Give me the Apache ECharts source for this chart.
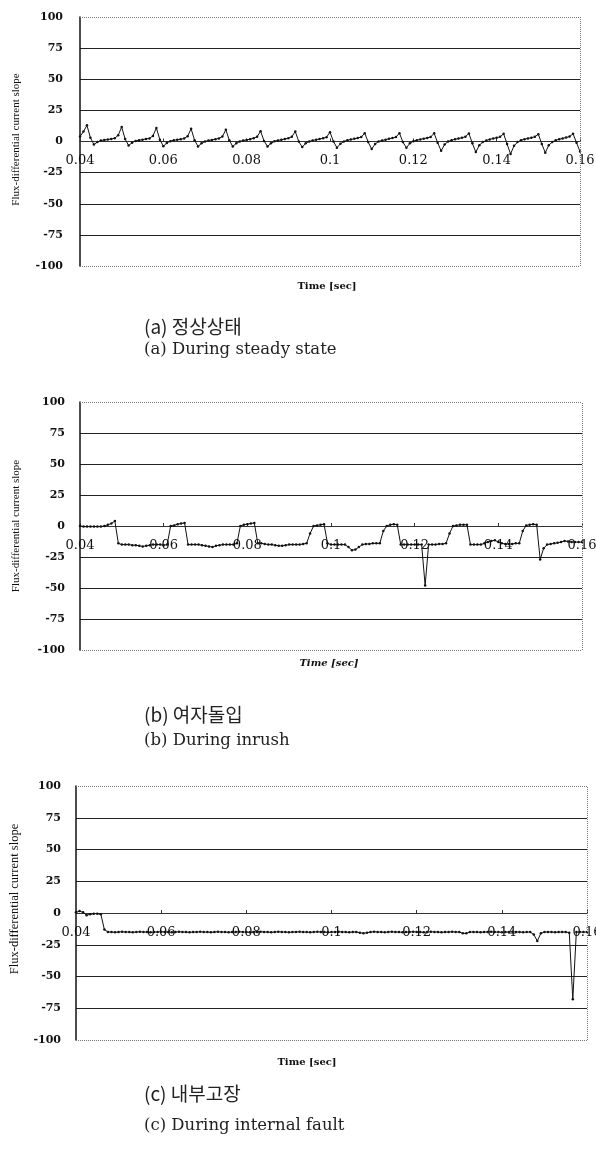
<!DOCTYPE html>
<html><head><meta charset="utf-8">
<script src="https://cdn.jsdelivr.net/npm/echarts@6/dist/echarts.min.js"></script>
<style>html,body{margin:0;padding:0;background:#fff}#c{width:596px;height:1149px}</style>
</head><body><div id="c"></div>
<script>
// ---- data ----
const xTicks = [0.04, 0.06, 0.08, 0.10, 0.12, 0.14, 0.16];
const xTickLabels = ['0.04', '0.06', '0.08', '0.1', '0.12', '0.14', '0.16'];
const yTicks = [-100, -75, -50, -25, 0, 25, 50, 75, 100];
const yTickLabels = ['-100', '-75', '-50', '-25', '0', '25', '50', '75', '100'];
const yName = 'Flux-differential current slope';
const xName = 'Time [sec]';
const captionsKo = ['(a) 정상상태', '(b) 여자돌입', '(c) 내부고장'];
const captionsEn = ['(a) During steady state', '(b) During inrush', '(c) During internal fault'];
const tStart = 0.04, tEnd = 0.16;
const yMin = -100, yMax = 100;

// (a) steady state, 145 samples from 0.04 to 0.16 s
const steadyState = [
  4, 8, 13,
  3, -2.4, -0.5, 0.8, 1.2, 1.6, 2, 2.6, 5, 11.6,
  2, -3.2, -1, 0.5, 1, 1.5, 2, 2.5, 4.5, 10.8,
  1.5, -3.8, -1.2, 0.3, 1, 1.4, 1.8, 2.4, 4.3, 10.2,
  1, -4, -1.5, 0, 0.8, 1.3, 1.8, 2.5, 4, 9.4,
  1, -4, -1.5, 0, 0.8, 1.3, 1.9, 2.6, 3.8, 8.3,
  0.5, -4, -1.5, 0.2, 0.9, 1.4, 2, 2.6, 3.8, 8,
  0, -4.5, -1.5, 0, 0.8, 1.5, 2, 2.6, 3.5, 7.5,
  0, -5, -1.8, 0, 1, 1.6, 2.2, 2.8, 3.6, 6.7,
  -0.5, -6, -2, 0, 0.8, 1.5, 2.2, 2.8, 3.6, 6.7,
  -0.5, -5, -1.5, 0.3, 1, 1.7, 2.3, 2.9, 3.7, 6.6,
  -1, -7.5, -2.5, 0, 1, 1.8, 2.4, 3, 3.8, 6.5,
  -1.5, -8.5, -3, -0.5, 0.8, 1.7, 2.4, 3, 3.8, 6.2,
  -2, -10, -3.5, -0.5, 1, 1.8, 2.5, 3, 3.8, 5.8,
  -2, -9, -3, -0.5, 1, 1.8, 2.5, 3.2, 4, 6.2,
  -1, -8
];

// (b) inrush
const inrush = [
  0, -0.5, -0.5, -0.5, -0.5, -0.5, -0.5, 0,
  1, 2, 4,
  -14,
  -15, -15, -15, -15.5, -15.5, -16, -16.5, -16, -15.5, -15, -15, -15, -15.5, -15,
  0, 0.5, 1.5, 2, 2.5,
  -15,
  -15, -15, -15, -15.5, -16, -16.5, -17, -16, -15.5, -15, -15, -15, -15, -14,
  0, 1, 1.5, 2, 2.5,
  -14,
  -14, -14.5, -15, -15, -15.5, -16, -16, -15.5, -15, -15, -15, -15, -14.5, -14,
  -6,
  0, 0.5, 1, 1.5,
  -14,
  -15, -15, -15, -15, -15, -17, -19.5, -19, -17, -15, -14.5, -14.5, -14, -14, -14,
  -4,
  0, 1, 1.5, 1,
  -15, -15, -15, -15, -15, -15, -15,
  -48,
  -15, -15, -15, -14.5, -14.5, -14,
  -6,
  0, 0.5, 1, 1, 1,
  -15, -15, -15, -15, -14, -13, -12, -11.5, -13, -14, -14.5, -14.5, -14.5, -14, -14,
  -4,
  0.5, 1, 1.5, 1,
  -27, -18, -15,
  -14.5, -14, -13.5, -13, -12, -12.5, -13, -13, -13, -13
];

// (c) internal fault
const internalFault = [
  0.5, 1.5, 0.5, -1.8, -1, -0.5, -0.5, -1, -13,
  -15, -15, -15.2, -15, -14.8, -15, -15, -15.2, -15, -14.8,
  -15, -15, -15.2, -15, -15, -14.8, -15, -15, -15.2, -15,
  -14.8, -15, -15, -15.2, -15, -15, -14.8, -15, -15, -15.2,
  -15, -14.8, -15, -15, -15.2, -15, -15, -14.8, -15, -15,
  -15.2, -15, -15, -14.8, -15, -15, -15.2, -15, -14.8, -15,
  -15, -15.2, -15, -15, -14.8, -15, -15, -15.2, -15, -14.8,
  -15, -15, -15.2, -15, -15, -14.8, -15, -15, -15.2, -15,
  -15, -15.5, -16, -15.5, -15, -14.8, -15, -15, -15.2, -15,
  -14.8, -15, -15, -15.2, -15, -15, -14.8, -15, -15, -15.2,
  -15, -14.8, -15, -15, -15.2, -15, -15, -14.8, -15, -15,
  -16, -16, -15,
  -15, -15, -15.2, -15, -15, -14.8, -15, -15, -15.2, -15, -15, -14.8, -15, -15, -15.2, -15, -15,
  -17, -22, -16,
  -15, -15, -15, -15.2, -15, -15, -15,
  -15.5, -68, -15,
  -15, -15, -15
];

const seriesData = [steadyState, inrush, internalFault];

// ---- layout (styles / positions) ----
const grids = [
  { left: 80, top: 17, width: 500, height: 249 },
  { left: 80, top: 402, width: 502, height: 248 },
  { left: 76, top: 786, width: 511, height: 254 }
];
const yNameSize = [11, 11, 12.5];
const yNameGap = [58, 58, 55];
const yNamePad = [[0, 0, 0, 4], [0, 0, 0, 0], [0, 0, 0, 28]];
const yLabelMargin = [17, 15, 15];
const timeLabelPos = [[327, 286, 'normal'], [329, 663, 'italic'], [307, 1062, 'normal']];
const captionPos = [[327, 350], [715, 741], [1094, 1126]];

const serif = 'DejaVu Serif';

function xFmt(v) {
  const i = xTicks.findIndex(t => Math.abs(t - v) < 1e-9);
  return i >= 0 ? xTickLabels[i] : '';
}
function yFmt(v) {
  const i = yTicks.findIndex(t => Math.abs(t - v) < 1e-9);
  return i >= 0 ? yTickLabels[i] : '';
}

const option = {
  animation: false,
  backgroundColor: '#ffffff',
  grid: grids.map(g => Object.assign({ containLabel: false, outerBoundsMode: 'none' }, g)),
  xAxis: grids.map((g, k) => ({
    type: 'value', gridIndex: k, min: tStart, max: tEnd, interval: 0.02,
    position: 'bottom',
    // lift the axis from the grid bottom up to the y = 0 level
    offset: -g.height * (0 - yMin) / (yMax - yMin),
    axisLine: { show: true, onZero: false, lineStyle: { color: '#333', width: 1 } },
    axisTick: { show: true, inside: true, length: 3, lineStyle: { color: '#333' } },
    axisLabel: { formatter: xFmt, margin: 13, fontFamily: serif, fontSize: 13, color: '#111',
      showMinLabel: true, showMaxLabel: true },
    splitLine: { show: false }
  })),
  yAxis: grids.map((g, k) => ({
    type: 'value', gridIndex: k, min: yMin, max: yMax, interval: 25,
    name: yName, nameLocation: 'middle', nameRotate: 90, nameGap: yNameGap[k],
    nameTextStyle: { fontFamily: 'Liberation Serif', fontSize: yNameSize[k], color: '#111', padding: yNamePad[k] },
    axisLine: { show: true, onZero: false, lineStyle: { color: '#111', width: 1.5 } },
    axisTick: { show: false },
    axisLabel: { formatter: yFmt, margin: yLabelMargin[k], fontFamily: serif, fontWeight: 'bold', fontSize: 11, color: '#111' },
    splitLine: { show: true, showMinLine: false, showMaxLine: false, lineStyle: { color: '#222', width: 1 } }
  })),
  series: seriesData.map((arr, k) => ({
    type: 'line', xAxisIndex: k, yAxisIndex: k,
    data: arr.map((v, i) => [tStart + i * (tEnd - tStart) / (arr.length - 1), v]),
    symbol: 'circle', symbolSize: 2.5, showSymbol: true, showAllSymbol: true,
    lineStyle: { color: '#111', width: 1 }, itemStyle: { color: '#111' },
    markLine: {
      silent: true, symbol: ['none', 'none'], label: { show: false },
      lineStyle: { type: 'dotted', color: '#777', width: 1 },
      data: [{ yAxis: yMax }, { yAxis: yMin }, { xAxis: tEnd }]
    }
  })),
  graphic: [].concat(
    timeLabelPos.map(p => ({
      type: 'text', x: p[0], y: p[1],
      style: { text: xName, textAlign: 'center', textVerticalAlign: 'middle',
        font: p[2] + ' bold 10px "DejaVu Serif"', fill: '#111' }
    })),
    captionPos.map((p, k) => ({
      type: 'text', x: 144, y: p[0],
      style: { text: captionsKo[k], textAlign: 'left', textVerticalAlign: 'middle',
        font: '19px "Noto Sans CJK KR"', fill: '#222' }
    })),
    captionPos.map((p, k) => ({
      type: 'text', x: 144, y: p[1],
      style: { text: captionsEn[k], textAlign: 'left', textVerticalAlign: 'middle',
        font: '16.5px "DejaVu Serif"', fill: '#222' }
    }))
  )
};

const chart = echarts.init(document.getElementById('c'), null, { renderer: 'canvas' });
chart.setOption(option);
</script>
</body></html>
